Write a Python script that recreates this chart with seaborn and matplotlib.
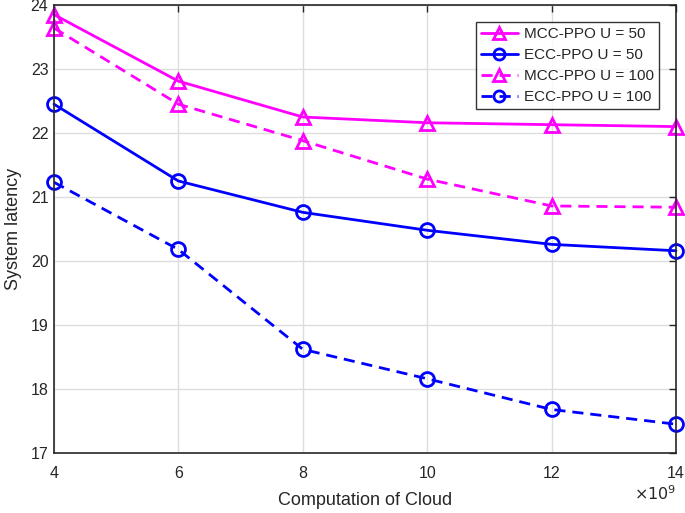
import numpy as np
import pandas as pd
import matplotlib
matplotlib.use("Agg")
import matplotlib.pyplot as plt
import seaborn as sns

x_vals = [4, 6, 8, 10, 12, 14]
mcc_u50 = [23.85, 22.81, 22.25, 22.16, 22.13, 22.10]
ecc_u50 = [22.45, 21.25, 20.76, 20.48, 20.26, 20.16]
mcc_u100 = [23.64, 22.45, 21.88, 21.28, 20.86, 20.84]
ecc_u100 = [21.23, 20.18, 18.62, 18.16, 17.68, 17.45]
labels = ["MCC-PPO U = 50", "ECC-PPO U = 50", "MCC-PPO U = 100", "ECC-PPO U = 100"]
xticks = [4, 6, 8, 10, 12, 14]
yticks = [17, 18, 19, 20, 21, 22, 23, 24]

series = [mcc_u50, ecc_u50, mcc_u100, ecc_u100]
df = pd.DataFrame({
    "x": np.tile(x_vals, 4),
    "y": np.concatenate(series),
    "series": np.repeat(labels, len(x_vals)),
})

sns.set_style("white")
plt.rcParams['font.family'] = ['Liberation Sans', 'DejaVu Sans']

fig = plt.figure(figsize=(6.85, 5.13), dpi=100)
ax = fig.add_axes([54 / 685, 60 / 513, 622 / 685, 448 / 513])

palette = {labels[0]: "#ff00ff", labels[1]: "#0000ff", labels[2]: "#ff00ff", labels[3]: "#0000ff"}
dashes = {labels[0]: "", labels[1]: "", labels[2]: (4, 2.5), labels[3]: (4, 2.5)}
markers = {labels[0]: "^", labels[1]: "o", labels[2]: "^", labels[3]: "o"}

sns.lineplot(data=df, x="x", y="y", hue="series", style="series", hue_order=labels,
             style_order=labels, palette=palette, dashes=dashes, markers=markers,
             linewidth=2, markersize=10, markerfacecolor="none", markeredgewidth=2,
             ax=ax, legend=True)
for ln in ax.lines:
    ln.set_markerfacecolor("none")
    ln.set_markeredgecolor(ln.get_color())
    ln.set_markeredgewidth(2)
    ln.set_clip_on(False)

ax.set_xlim(4, 14)
ax.set_ylim(17, 24)
ax.set_xticks(xticks)
ax.set_yticks(yticks)
ax.set_xticklabels([str(v) for v in xticks], fontsize=11.5)
ax.set_yticklabels([str(v) for v in yticks], fontsize=11.5)
ax.grid(True, color="#dddddd", linewidth=1)
ax.tick_params(direction="in", length=5, width=1, top=True, right=True)
ax.tick_params(axis="x", pad=9)
ax.tick_params(axis="y", pad=4)
for s in ax.spines.values():
    s.set_color("#262626")
    s.set_linewidth(1.2)
ax.set_xlabel("Computation of Cloud", fontsize=13, labelpad=8)
ax.set_ylabel("System latency", fontsize=13, labelpad=6)
fig.text(676 / 685, 10 / 513, r"$\times10^{9}$", ha="right", va="bottom", fontsize=11.5)

leg = ax.legend(loc="upper right", bbox_to_anchor=(0.973, 0.962), fontsize=11,
                frameon=True, fancybox=False, edgecolor="black", handlelength=2.4,
                borderpad=0.35, labelspacing=0.45, handletextpad=0.4, borderaxespad=0)
leg.get_frame().set_linewidth(1)
for h in leg.legend_handles:
    h.set_markerfacecolor("none")
    h.set_markeredgewidth(2)
    h.set_markersize(8)

fig.savefig("out.png", dpi=100)
